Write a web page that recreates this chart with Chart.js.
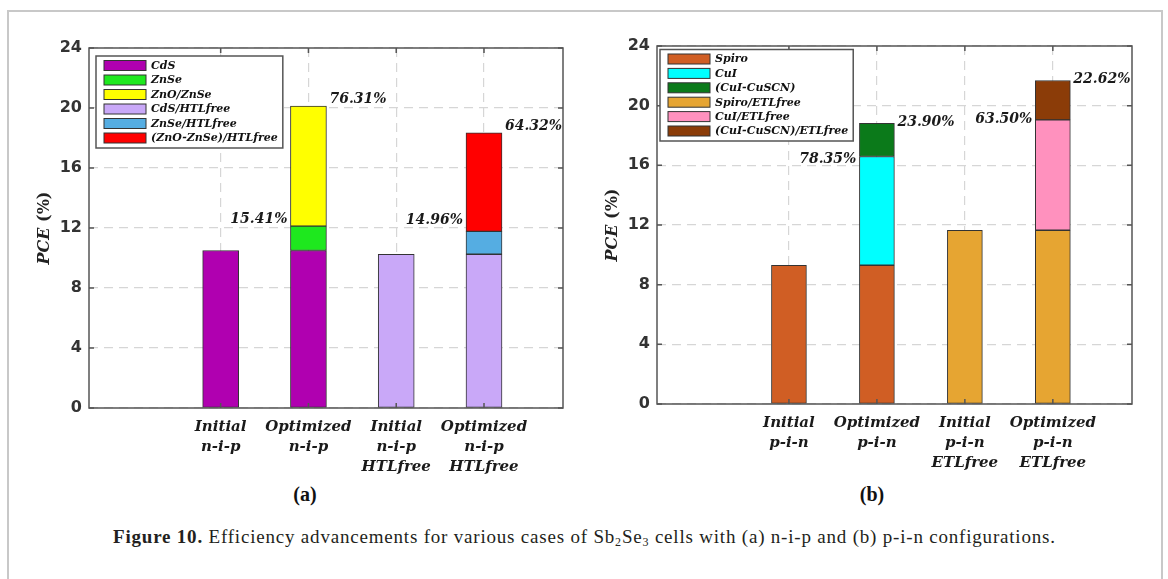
<!DOCTYPE html>
<html>
<head>
<meta charset="utf-8" />
<title>PCE of Sb2Se3 cells</title>
<script src="https://cdn.jsdelivr.net/npm/chart.js"></script>
<style>
  body { margin: 0; background: #fff; overflow: hidden; width: 1168px; height: 579px; }
  #frame { position: absolute; left: 7px; top: 10px; width: 1152px; height: 620px;
           border: 2px solid #c8c8c8; border-bottom: none; }
  .panel { position: absolute; top: 0; width: 584px; height: 480px; }
  #panelA { left: 0; }
  #panelB { left: 584px; }
  .tag { position: absolute; top: 483px; width: 80px; text-align: center;
         font: bold 20px "Liberation Serif", serif; color: #111; }
  #tagA { left: 265px; }
  #tagB { left: 832px; }
  #caption { position: absolute; left: 113px; top: 526px; white-space: nowrap;
             font: 19px "Liberation Serif", serif; letter-spacing: 0.8px; color: #231f20; }
  #caption b { font-weight: bold; }
  #caption sub { font-size: 12px; vertical-align: -3px; line-height: 0; }
</style>
</head>
<body>
<div id="frame"></div>
<div class="panel" id="panelA"><canvas id="chartA" width="584" height="480"></canvas></div>
<div class="panel" id="panelB"><canvas id="chartB" width="584" height="480"></canvas></div>
<div class="tag" id="tagA">(a)</div>
<div class="tag" id="tagB">(b)</div>
<div id="caption"><b>Figure 10.</b> Efficiency advancements for various cases of Sb<sub>2</sub>Se<sub>3</sub> cells with (a) n-i-p and (b) p-i-n configurations.</div>

<script>
// bar positions on the x axis
const xSlots = [1, 2, 3, 4];
const yTicks = [0, 4, 8, 12, 16, 20, 24];

// (a) n-i-p cells
const casesA = [['Initial', 'n-i-p'], ['Optimized', 'n-i-p'], ['Initial', 'n-i-p', 'HTLfree'], ['Optimized', 'n-i-p', 'HTLfree']];
const namesA = ['CdS', 'ZnSe', 'ZnO/ZnSe', 'CdS/HTLfree', 'ZnSe/HTLfree', '(ZnO-ZnSe)/HTLfree'];
const cdsA          = [10.5, 10.5, null, null];
const znseA         = [null, 1.62, null, null];
const znoZnseA      = [null, 8.01, null, null];
const cdsFreeA      = [null, null, 10.25, 10.25];
const znseFreeA     = [null, null, null, 1.53];
const znoZnseFreeA  = [null, null, null, 6.57];
const gainsA = ['15.41%', '76.31%', '14.96%', '64.32%'];

// (b) p-i-n cells
const casesB = [['Initial', 'p-i-n'], ['Optimized', 'p-i-n'], ['Initial', 'p-i-n', 'ETLfree'], ['Optimized', 'p-i-n', 'ETLfree']];
const namesB = ['Spiro', 'CuI', '(CuI-CuSCN)', 'Spiro/ETLfree', 'CuI/ETLfree', '(CuI-CuSCN)/ETLfree'];
const spiroB         = [9.3, 9.3, null, null];
const cuiB           = [null, 7.29, null, null];
const cuiCuscnB      = [null, 2.22, null, null];
const spiroFreeB     = [null, null, 11.65, 11.65];
const cuiFreeB       = [null, null, null, 7.4];
const cuiCuscnFreeB  = [null, null, null, 2.64];
const gainsB = ['78.35%', '23.90%', '63.50%', '22.62%'];

const colorsA = ['#b000b0', '#1ee81e', '#ffff00', '#c9a8f8', '#55ade2', '#ff0000'];
const colorsB = ['#d05e24', '#00ffff', '#0b7a1a', '#e6a532', '#ff91be', '#8b3c08'];

const axisInk = '#555';

// outline of the axes with short inward ticks on every side
const axesBox = {
  id: 'axesBox',
  afterDatasetsDraw(chart) {
    const { ctx, chartArea: a, scales: { x, y } } = chart;
    ctx.save();
    ctx.strokeStyle = axisInk;
    ctx.lineWidth = 1.5;
    ctx.strokeRect(a.left, a.top, a.right - a.left, a.bottom - a.top);
    ctx.beginPath();
    y.ticks.forEach(t => {
      const py = y.getPixelForValue(t.value);
      ctx.moveTo(a.left, py); ctx.lineTo(a.left + 5, py);
      ctx.moveTo(a.right, py); ctx.lineTo(a.right - 5, py);
    });
    x.ticks.forEach(t => {
      const px = x.getPixelForValue(t.value);
      ctx.moveTo(px, a.bottom); ctx.lineTo(px, a.bottom - 5);
      ctx.moveTo(px, a.top); ctx.lineTo(px, a.top + 5);
    });
    ctx.stroke();
    ctx.restore();
  }
};

// percentage gain written beside a stack segment
const gainLabels = {
  id: 'gainLabels',
  afterDatasetsDraw(chart, args, opts) {
    const ctx = chart.ctx;
    ctx.save();
    ctx.font = 'italic bold 14px "DejaVu Serif"';
    ctx.fillStyle = '#1a1a1a';
    ctx.textBaseline = 'middle';
    opts.items.forEach(it => {
      const el = chart.getDatasetMeta(it.ds).data[it.slot];
      const half = el.width / 2;
      if (it.side === 'left') {
        ctx.textAlign = 'right';
        ctx.fillText(it.text, el.x - half - 3, el.y + it.dy);
      } else {
        ctx.textAlign = 'left';
        ctx.fillText(it.text, el.x + half + 3, el.y + it.dy);
      }
    });
    ctx.restore();
  }
};

// boxed legend sitting in the upper left corner of the plot
const boxLegend = {
  id: 'boxLegend',
  afterDraw(chart, args, opts) {
    const { ctx, chartArea: a } = chart;
    const sets = chart.data.datasets;
    ctx.save();
    ctx.font = 'italic bold 11px "DejaVu Serif"';
    const textW = Math.max(...sets.map(d => ctx.measureText(d.label).width));
    const x0 = a.left + opts.dx, y0 = a.top + opts.dy;
    const w = 8 + 42 + 5 + textW + 5;
    const h = 9.5 + (sets.length - 1) * opts.pitch + 10;
    ctx.fillStyle = '#fff';
    ctx.fillRect(x0, y0, w, h);
    ctx.strokeStyle = axisInk;
    ctx.lineWidth = 1.5;
    ctx.strokeRect(x0, y0, w, h);
    ctx.textBaseline = 'middle';
    sets.forEach((d, i) => {
      const cy = y0 + 9.5 + i * opts.pitch;
      ctx.fillStyle = d.backgroundColor;
      ctx.fillRect(x0 + 8, cy - 5, 42, 10);
      ctx.lineWidth = 1;
      ctx.strokeStyle = '#333';
      ctx.strokeRect(x0 + 8, cy - 5, 42, 10);
      ctx.fillStyle = '#111';
      ctx.fillText(d.label, x0 + 55, cy + 0.5);
    });
    ctx.restore();
  }
};

// rotated "PCE (%)" with the symbol in italics
const yTitle = {
  id: 'yTitle',
  afterDraw(chart) {
    const { ctx, chartArea: a } = chart;
    const f1 = 'italic bold 16px "DejaVu Serif"', f2 = 'bold 16px "DejaVu Serif"';
    ctx.save();
    ctx.translate(a.left - 44, (a.top + a.bottom) / 2);
    ctx.rotate(-Math.PI / 2);
    ctx.font = f1; const w1 = ctx.measureText('PCE').width;
    ctx.font = f2; const w2 = ctx.measureText(' (%)').width;
    ctx.fillStyle = '#222';
    ctx.textBaseline = 'middle';
    ctx.textAlign = 'left';
    ctx.font = f1; ctx.fillText('PCE', -(w1 + w2) / 2, 0);
    ctx.font = f2; ctx.fillText(' (%)', -(w1 + w2) / 2 + w1, 0);
    ctx.restore();
  }
};

function makePanel(id, cases, names, series, colors, gainItems, lay) {
  const datasets = series.map((vals, i) => ({
    label: names[i],
    data: vals,
    backgroundColor: colors[i],
    borderColor: '#333',
    borderWidth: 1,
    borderSkipped: false,
    barThickness: lay.bar
  }));
  return new Chart(document.getElementById(id), {
    type: 'bar',
    data: { labels: xSlots, datasets },
    options: {
      responsive: false,
      animation: false,
      layout: { padding: { top: lay.top, right: lay.right, left: 0, bottom: 0 } },
      scales: {
        x: {
          type: 'linear',
          stacked: true,
          offset: false,
          min: -0.5,
          max: 4.9,
          afterBuildTicks: s => { s.ticks = xSlots.map(v => ({ value: v })); },
          afterFit: s => { s.height = lay.xh; },
          grid: { offset: false, color: '#d6d6d6', lineWidth: 1.2, drawTicks: false },
          border: { display: false, dash: [9, 6] },
          ticks: {
            autoSkip: false, maxRotation: 0, padding: 9, color: '#1a1a1a',
            font: { family: 'DejaVu Serif', style: 'italic', weight: 'bold', size: 15, lineHeight: '20px' },
            callback: v => cases[v - 1]
          }
        },
        y: {
          stacked: true,
          min: 0,
          max: 24,
          afterBuildTicks: s => { s.ticks = yTicks.map(v => ({ value: v })); },
          afterFit: s => { s.width = lay.yw; },
          grid: { color: '#d6d6d6', lineWidth: 1.2, drawTicks: false },
          border: { display: false, dash: [9, 6] },
          ticks: {
            padding: 7, color: '#333',
            font: { family: 'DejaVu Sans', weight: 'bold', size: 16 }
          }
        }
      },
      plugins: {
        legend: { display: false },
        tooltip: { enabled: false },
        gainLabels: { items: gainItems },
        boxLegend: { dx: lay.legX, dy: lay.legY, pitch: lay.pitch }
      }
    },
    plugins: [axesBox, gainLabels, boxLegend, yTitle]
  });
}

makePanel('chartA', casesA, namesA,
  [cdsA, znseA, znoZnseA, cdsFreeA, znseFreeA, znoZnseFreeA], colorsA,
  [
    { ds: 1, slot: 1, side: 'left', dy: -7, text: gainsA[0] },
    { ds: 2, slot: 1, side: 'right', dy: -7, text: gainsA[1] },
    { ds: 4, slot: 3, side: 'left', dy: -11, text: gainsA[2] },
    { ds: 5, slot: 3, side: 'right', dy: -6, text: gainsA[3] }
  ],
  { top: 48, right: 21, yw: 89, xh: 72, bar: 36, legX: 7, legY: 8, pitch: 14.5 });

makePanel('chartB', casesB, namesB,
  [spiroB, cuiB, cuiCuscnB, spiroFreeB, cuiFreeB, cuiCuscnFreeB], colorsB,
  [
    { ds: 1, slot: 1, side: 'left', dy: 2.5, text: gainsB[0] },
    { ds: 2, slot: 1, side: 'right', dy: -1, text: gainsB[1] },
    { ds: 4, slot: 3, side: 'left', dy: -0.5, text: gainsB[2] },
    { ds: 5, slot: 3, side: 'right', dy: -1.5, text: gainsB[3] }
  ],
  { top: 46, right: 36, yw: 73, xh: 76, bar: 35, legX: 3, legY: 3.5, pitch: 14.4 });
</script>
</body>
</html>
